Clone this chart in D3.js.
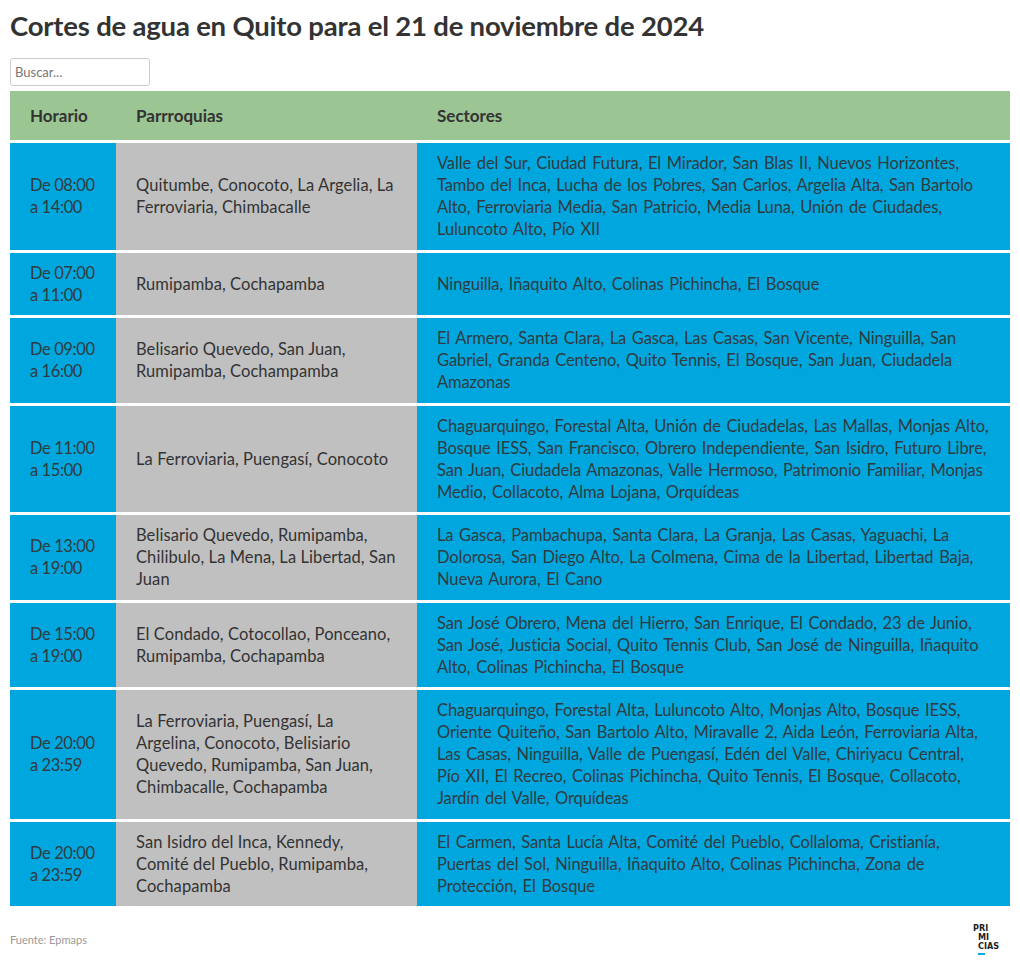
<!DOCTYPE html>
<html><head><meta charset="utf-8">
<script src="https://cdn.jsdelivr.net/npm/d3@7"></script>
<style>
  html,body{margin:0;padding:0;background:#fff;}
  body{font-family:Lato,"Open Sans",sans-serif;color:#333;width:1020px;height:974px;position:relative;overflow:hidden;}
  h1{position:absolute;left:10px;top:9px;margin:0;font-size:27.5px;font-weight:700;color:#333;letter-spacing:-0.2px;}
  input{position:absolute;left:10px;top:58px;width:140px;height:28px;box-sizing:border-box;border:1px solid #ccc;border-radius:3px;padding:0 4px;font-family:inherit;font-size:13px;color:#333;}
  input::placeholder{color:#777;}
  table{position:absolute;left:10px;top:91px;width:1000px;border-collapse:collapse;table-layout:fixed;}
  th{background:#9bc593;text-align:left;font-weight:700;font-size:17px;height:49px;padding:0 20px;color:#333;}
  td{font-size:16.5px;line-height:22px;padding:9px 20px 9.5px 20px;vertical-align:middle;border-top:3px solid #fff;letter-spacing:0.08px;color:#2f3b40;}
  td.c0{background:#00a7de;letter-spacing:-0.4px;}
  td.c1{background:#c0c0c0;color:#333;}
  td.c2{background:#00a7de;letter-spacing:-0.1px;word-spacing:1.5px;}
  .src{position:absolute;left:10px;top:933px;font-size:11px;color:#999;}
  .logo{position:absolute;left:973px;top:924px;font-size:9px;font-weight:900;line-height:9px;color:#222;font-family:"DejaVu Sans Condensed","DejaVu Sans",sans-serif;}
  .logo span{display:block;}
  .logo .bar{width:7px;height:2px;background:#00a7de;margin-left:5px;margin-top:2px;}
</style></head>
<body>
<h1>Cortes de agua en Quito para el 21 de noviembre de 2024</h1>
<input type="text" placeholder="Buscar...">
<div id="t"></div>
<div class="src">Fuente: Epmaps</div>
<div class="logo"><span>PRI</span><span style="margin-left:5px">MI</span><span style="margin-left:5px">CIAS</span><div class="bar"></div></div>
<script>
const columns = ["Horario", "Parrroquias", "Sectores"];
const horarios = [
  "De 08:00 a 14:00",
  "De 07:00 a 11:00",
  "De 09:00 a 16:00",
  "De 11:00 a 15:00",
  "De 13:00 a 19:00",
  "De 15:00 a 19:00",
  "De 20:00 a 23:59",
  "De 20:00 a 23:59"
];
const parroquias = [
  "Quitumbe, Conocoto, La Argelia, La Ferroviaria, Chimbacalle",
  "Rumipamba, Cochapamba",
  "Belisario Quevedo, San Juan, Rumipamba, Cochampamba",
  "La Ferroviaria, Puengasí, Conocoto",
  "Belisario Quevedo, Rumipamba, Chilibulo, La Mena, La Libertad, San Juan",
  "El Condado, Cotocollao, Ponceano, Rumipamba, Cochapamba",
  "La Ferroviaria, Puengasí, La Argelina, Conocoto, Belisiario Quevedo, Rumipamba, San Juan, Chimbacalle, Cochapamba",
  "San Isidro del Inca, Kennedy, Comité del Pueblo, Rumipamba, Cochapamba"
];
const sectores = [
  "Valle del Sur, Ciudad Futura, El Mirador, San Blas II, Nuevos Horizontes, Tambo del Inca, Lucha de los Pobres, San Carlos, Argelia Alta, San Bartolo Alto, Ferroviaria Media, San Patricio, Media Luna, Unión de Ciudades, Luluncoto Alto, Pío XII",
  "Ninguilla, Iñaquito Alto, Colinas Pichincha, El Bosque",
  "El Armero, Santa Clara, La Gasca, Las Casas, San Vicente, Ninguilla, San Gabriel, Granda Centeno, Quito Tennis, El Bosque, San Juan, Ciudadela Amazonas",
  "Chaguarquingo, Forestal Alta, Unión de Ciudadelas, Las Mallas, Monjas Alto, Bosque IESS, San Francisco, Obrero Independiente, San Isidro, Futuro Libre, San Juan, Ciudadela Amazonas, Valle Hermoso, Patrimonio Familiar, Monjas Medio, Collacoto, Alma Lojana, Orquídeas",
  "La Gasca, Pambachupa, Santa Clara, La Granja, Las Casas, Yaguachi, La Dolorosa, San Diego Alto, La Colmena, Cima de la Libertad, Libertad Baja, Nueva Aurora, El Cano",
  "San José Obrero, Mena del Hierro, San Enrique, El Condado, 23 de Junio, San José, Justicia Social, Quito Tennis Club, San José de Ninguilla, Iñaquito Alto, Colinas Pichincha, El Bosque",
  "Chaguarquingo, Forestal Alta, Luluncoto Alto, Monjas Alto, Bosque IESS, Oriente Quiteño, San Bartolo Alto, Miravalle 2, Aida León, Ferroviaria Alta, Las Casas, Ninguilla, Valle de Puengasí, Edén del Valle, Chiriyacu Central, Pío XII, El Recreo, Colinas Pichincha, Quito Tennis, El Bosque, Collacoto, Jardín del Valle, Orquídeas",
  "El Carmen, Santa Lucía Alta, Comité del Pueblo, Collaloma, Cristianía, Puertas del Sol, Ninguilla, Iñaquito Alto, Colinas Pichincha, Zona de Protección, El Bosque"
];
const rows = horarios.map((h, i) => [h, parroquias[i], sectores[i]]);
const widths = [106, 301, 593];

const table = d3.select("#t").append("table");
table.append("colgroup").selectAll("col").data(widths).join("col").style("width", d => d + "px");
table.append("thead").append("tr").selectAll("th").data(columns).join("th").text(d => d);
table.append("tbody").selectAll("tr").data(rows).join("tr")
  .selectAll("td").data(d => d).join("td")
  .attr("class", (d, i) => "c" + i)
  .text(d => d);
</script>
</body></html>
